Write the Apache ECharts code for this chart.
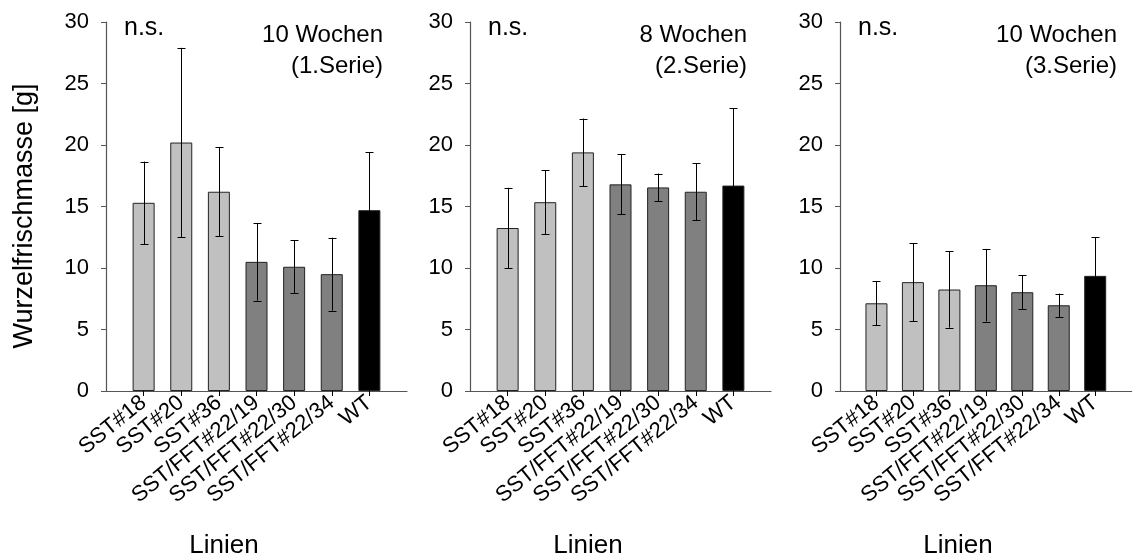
<!DOCTYPE html>
<html>
<head>
<meta charset="utf-8">
<script src="https://cdn.jsdelivr.net/npm/echarts@6/dist/echarts.min.js"></script>
<style>
html,body{margin:0;padding:0;background:#fff;}
#chart{width:1134px;height:558px;}
</style>
</head>
<body>
<div id="chart"></div>
<script>
// ---- data ----
const categories = ['SST#18','SST#20','SST#36','SST/FFT#22/19','SST/FFT#22/30','SST/FFT#22/34','WT'];
const yTicks = [0,5,10,15,20,25,30];

const serie1Mean = [15.3, 20.2, 16.2, 10.5, 10.1, 9.5, 14.7];
const serie1Err  = [3.35, 7.7, 3.6, 3.15, 2.17, 2.97, 4.7];

const serie2Mean = [13.25, 15.35, 19.4, 16.8, 16.55, 16.2, 16.7];
const serie2Err  = [3.27, 2.6, 2.75, 2.45, 1.13, 2.3, 6.3];

const serie3Mean = [7.13, 8.85, 8.25, 8.6, 8.03, 6.97, 9.36];
const serie3Err  = [1.78, 3.17, 3.1, 2.95, 1.38, 0.95, 3.12];

const panelTitles = [['10 Wochen','(1.Serie)'],['8 Wochen','(2.Serie)'],['10 Wochen','(3.Serie)']];
const sigLabel = 'n.s.';
const xTitle = 'Linien';
const yTitle = 'Wurzelfrischmasse [g]';

// ---- styles ----
const FONT = 'Liberation Sans, Arial, sans-serif';
const AXIS_COLOR = '#555555';
function barColor(name){
  if(name === 'WT') return '#000000';
  if(name.indexOf('SST/FFT') === 0) return '#808080';
  return '#c0c0c0';
}

const panels = [
  {mean: serie1Mean, err: serie1Err, left: 106},
  {mean: serie2Mean, err: serie2Err, left: 470},
  {mean: serie3Mean, err: serie3Err, left: 840}
];
const GRID_W = 301, GRID_TOP = 22, GRID_H = 369;

const paddedCats = [''].concat(categories, ['']);

const grids = [], xAxes = [], yAxes = [], series = [], graphics = [];

panels.forEach((p, k) => {
  grids.push({left: p.left, top: GRID_TOP, width: GRID_W, height: GRID_H, containLabel: false});
  xAxes.push({
    type: 'category', gridIndex: k, data: paddedCats, boundaryGap: false,
    axisLine: {show: true, lineStyle: {color: AXIS_COLOR, width: 1.2}},
    axisTick: {show: true, inside: false, length: 5, interval: (i) => i > 0 && i < paddedCats.length - 1,
               lineStyle: {color: '#000'}},
    axisLabel: {interval: 0, rotate: 39, margin: 9, color: '#000', fontSize: 22, fontFamily: FONT},
    splitLine: {show: false}
  });
  yAxes.push({
    type: 'value', gridIndex: k, min: yTicks[0], max: yTicks[yTicks.length-1], interval: yTicks[1]-yTicks[0],
    axisLine: {show: true, lineStyle: {color: AXIS_COLOR, width: 1.2}},
    axisTick: {show: true, inside: false, length: 5, lineStyle: {color: AXIS_COLOR}},
    axisLabel: {color: '#000', fontSize: 22, fontFamily: FONT, margin: 17},
    splitLine: {show: false}
  });
  const barData = [{value: '-'}].concat(
    categories.map((c, i) => ({value: p.mean[i], itemStyle: {color: barColor(c)}})),
    [{value: '-'}]);
  series.push({
    type: 'bar', xAxisIndex: k, yAxisIndex: k, data: barData, barWidth: 22,
    itemStyle: {borderColor: '#222', borderWidth: 1}, silent: true, animation: false
  });
  const errData = categories.map((c, i) => [i + 1, p.mean[i] - p.err[i], p.mean[i] + p.err[i]]);
  series.push({
    type: 'custom', xAxisIndex: k, yAxisIndex: k, data: errData, animation: false, silent: true, z: 5,
    renderItem: function(params, api){
      const x = api.value(0);
      const lo = api.coord([x, api.value(1)]);
      const hi = api.coord([x, api.value(2)]);
      const cx = Math.round(lo[0]) + 0.5;
      const cap = 4;
      const st = {stroke: '#000', lineWidth: 1};
      return {type: 'group', children: [
        {type: 'line', shape: {x1: cx, y1: hi[1], x2: cx, y2: lo[1]}, style: st},
        {type: 'line', shape: {x1: cx - cap, y1: Math.round(hi[1])+0.5, x2: cx + cap, y2: Math.round(hi[1])+0.5}, style: st},
        {type: 'line', shape: {x1: cx - cap, y1: Math.round(lo[1])+0.5, x2: cx + cap, y2: Math.round(lo[1])+0.5}, style: st}
      ]};
    }
  });
  // annotations
  graphics.push({type: 'text', x: p.left + 18, y: 16,
    style: {text: sigLabel, font: '25px ' + FONT, fill: '#000', verticalAlign: 'top'}});
  graphics.push({type: 'text', x: p.left + 277, y: 20,
    style: {text: panelTitles[k][0] + '\n' + panelTitles[k][1], font: '24px ' + FONT, fill: '#000',
            align: 'right', verticalAlign: 'top', lineHeight: 31}});
  graphics.push({type: 'text', x: p.left + 118, y: 533,
    style: {text: xTitle, font: '26px ' + FONT, fill: '#000', align: 'center', verticalAlign: 'top'}});
});

graphics.push({type: 'text', x: 11, y: 216, rotation: Math.PI/2,
  style: {text: yTitle, font: '27px ' + FONT, fill: '#000', align: 'center', verticalAlign: 'top'}});

const chart = echarts.init(document.getElementById('chart'), null, {renderer: 'canvas'});
chart.setOption({
  animation: false,
  backgroundColor: '#ffffff',
  textStyle: {fontFamily: FONT},
  grid: grids, xAxis: xAxes, yAxis: yAxes, series: series, graphic: graphics
});
</script>
</body>
</html>
